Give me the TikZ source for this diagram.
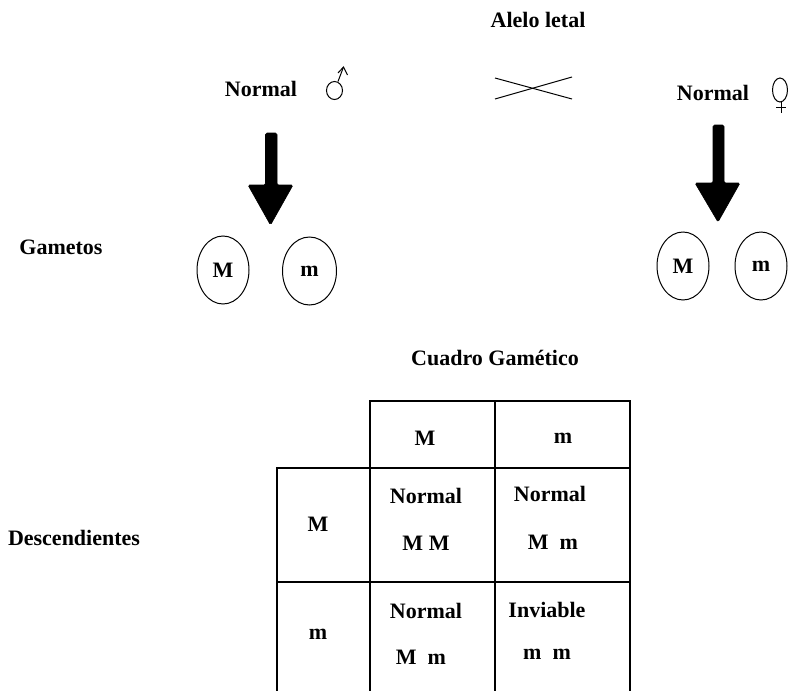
\documentclass[tikz,border=0pt]{standalone}
\usepackage{fontspec}
\setmainfont{Liberation Serif}
\usetikzlibrary{shapes.geometric}
\begin{document}
\begin{tikzpicture}[x=1pt,y=-1pt,
  txt/.style={font=\fontsize{22}{26}\selectfont\bfseries, inner sep=0pt},
  gamete/.style={ellipse, draw, line width=1pt, minimum width=52pt, minimum height=68pt, inner sep=0pt, font=\fontsize{22}{26}\selectfont\bfseries},
  blockarrow/.style={fill=black, draw=black, line width=0.6pt, rounded corners=1.5pt},
  gridline/.style={line width=1.8pt},
  symb/.style={line width=1pt}]
\useasboundingbox (0,0) rectangle (788,691);

% titles and labels
\node[txt] (alelo) at (538,20) {Alelo letal};
\node[txt] (normL) at (261,89) {Normal};
\node[txt] (normR) at (713,93) {Normal};
\node[txt] (gametos) at (61,247) {Gametos};
\node[txt] (cuadro) at (495,358) {Cuadro Gamético};
\node[txt] (desc) at (74,538) {Descendientes};

% male symbol
\draw[symb] (334.5,90.5) ellipse [x radius=8, y radius=9];
\draw[symb] (338,81.5) -- (343.5,67);
\draw[symb] (338,73) -- (343.5,67) -- (347.5,75);

% female symbol
\draw[symb] (780,90) ellipse [x radius=7.5, y radius=12];
\draw[symb] (781,102) -- (781,113);
\draw[symb] (776,107.5) -- (786,107.5);

% cross
\coordinate (c1) at (495,78);
\coordinate (c2) at (572,99);
\coordinate (c3) at (495,99);
\coordinate (c4) at (572,77);
\draw[line width=1pt] (c1) -- (c2);
\draw[line width=1pt] (c3) -- (c4);

% block arrows
\fill[blockarrow] (265.5,133) -- (277,133) -- (277,185) -- (293,185) -- (270.5,225) -- (248,185) -- (265.5,185) -- cycle;
\fill[blockarrow] (713,125) -- (724,125) -- (724,183) -- (740,183) -- (718,222) -- (695,183) -- (713,183) -- cycle;

% gametes
\node[gamete] (gLM) at (223,270) {M};
\node[gamete, minimum width=54pt] (gLm) at (309.5,271) {m};
\node[gamete] (gRM) at (683,266) {M};
\node[gamete] (gRm) at (761,266) {m};

% table lines
\draw[gridline] (370,691) -- (370,401) -- (630,401) -- (630,691);
\draw[gridline] (495,401) -- (495,691);
\draw[gridline] (277,691) -- (277,468) -- (630,468);
\draw[gridline] (277,582) -- (630,582);

% table text
\node[txt] (hM) at (425,438) {M};
\node[txt] (hm) at (563,438) {m};
\node[txt] (rM) at (318,524) {M};
\node[txt] (rm) at (318,634) {m};
\node[txt] (a1) at (426,496) {Normal};
\node[txt] (a2) at (426,543) {M M};
\node[txt] (b1) at (550,494) {Normal};
\node[txt] (b2) at (553,542) {M\ \ m};
\node[txt] (c1t) at (426,611) {Normal};
\node[txt] (c2t) at (421,657) {M\ \ m};
\node[txt] (d1) at (547,610) {Inviable};
\node[txt] (d2) at (547,654) {m\ \ m};
\end{tikzpicture}
\end{document}
